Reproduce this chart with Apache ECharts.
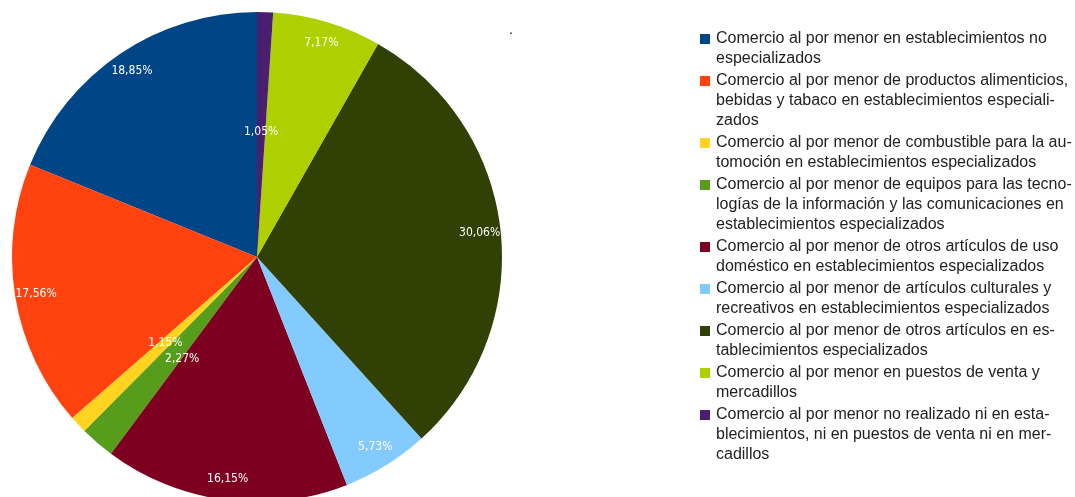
<!DOCTYPE html>
<html>
<head>
<meta charset="utf-8">
<script src="https://cdn.jsdelivr.net/npm/echarts@6/dist/echarts.min.js"></script>
<style>
  html, body { margin: 0; padding: 0; background: #fff; }
  #myChart { width: 1075px; height: 497px; }
</style>
</head>
<body>
<div id="myChart"></div>
<script>
// categorias (nombres completos) y su texto de leyenda partido en lineas
var categories = [
  'Comercio al por menor en establecimientos no especializados',
  'Comercio al por menor de productos alimenticios, bebidas y tabaco en establecimientos especializados',
  'Comercio al por menor de combustible para la automoción en establecimientos especializados',
  'Comercio al por menor de equipos para las tecnologías de la información y las comunicaciones en establecimientos especializados',
  'Comercio al por menor de otros artículos de uso doméstico en establecimientos especializados',
  'Comercio al por menor de artículos culturales y recreativos en establecimientos especializados',
  'Comercio al por menor de otros artículos en establecimientos especializados',
  'Comercio al por menor en puestos de venta y mercadillos',
  'Comercio al por menor no realizado ni en establecimientos, ni en puestos de venta ni en mercadillos'
]
var legendLines = [
  'Comercio al por menor en establecimientos no\nespecializados',
  'Comercio al por menor de productos alimenticios,\nbebidas y tabaco en establecimientos especiali-\nzados',
  'Comercio al por menor de combustible para la au-\ntomoción en establecimientos especializados',
  'Comercio al por menor de equipos para las tecno-\nlogías de la información y las comunicaciones en\nestablecimientos especializados',
  'Comercio al por menor de otros artículos de uso\ndoméstico en establecimientos especializados',
  'Comercio al por menor de artículos culturales y\nrecreativos en establecimientos especializados',
  'Comercio al por menor de otros artículos en es-\ntablecimientos especializados',
  'Comercio al por menor en puestos de venta y\nmercadillos',
  'Comercio al por menor no realizado ni en esta-\nblecimientos, ni en puestos de venta ni en mer-\ncadillos'
]
var percentValues = [18.85, 17.56, 1.15, 2.27, 16.15, 5.73, 30.06, 7.17, 1.05]
var colors = ['#004586', '#ff420e', '#ffd320', '#579d1c', '#7e0021', '#83caff', '#314004', '#aecf00', '#4b1f6f']

var myChart = echarts.init(document.getElementById('myChart'))

function fmtPct(v) {
  return v.toFixed(2).replace('.', ',') + '%'
}

// estilos rich para la leyenda (cuadro de color en la primera linea)
var rich = {
  g: { width: 6 },
  i: { width: 16 },
  t: { fontSize: 16, lineHeight: 20, color: '#222', fontFamily: 'Liberation Sans' }
}
colors.forEach(function(c, i) {
  rich['m' + i] = { width: 10, height: 10, backgroundColor: c }
})

var labelStyle = {
  color: '#fff',
  fontSize: 12,
  fontFamily: 'DejaVu Sans Condensed',
  formatter: function(p) { return fmtPct(p.value) }
}

// sectores; los pequenos llevan la etiqueta a media distancia
var mainData = categories.map(function(name, i) {
  return {
    name: name,
    value: percentValues[i],
    itemStyle: { color: colors[i] },
    label: { show: percentValues[i] < 3 }
  }
})
// anillo transparente solo para colocar las etiquetas grandes cerca del borde
var ringData = categories.map(function(name, i) {
  return {
    name: name,
    value: percentValues[i],
    label: { show: percentValues[i] >= 3 }
  }
})

var option = {
  animation: false,
  title: {
    text: '.',
    left: 504,
    top: 18,
    textStyle: { fontSize: 14, color: '#000', fontWeight: 'normal' }
  },
  legend: {
    orient: 'vertical',
    left: 695,
    top: 31,
    padding: 0,
    itemGap: 6,
    itemWidth: 0,
    itemHeight: 10,
    icon: 'none',
    data: categories,
    formatter: function(name) {
      var idx = categories.indexOf(name)
      var lines = legendLines[idx].split('\n')
      return lines.map(function(l, k) {
        return (k === 0 ? '{m' + idx + '|}{g|}' : '{i|}') + '{t|' + l + '}'
      }).join('\n')
    },
    textStyle: { rich: rich }
  },
  series: [
    {
      type: 'pie',
      center: [257, 257],
      radius: [0, 245],
      startAngle: 90,
      clockwise: false,
      silent: true,
      label: Object.assign({ position: 'inside' }, labelStyle),
      labelLine: { show: false },
      labelLayout: function(params) {
        // separar un poco las dos etiquetas pequenas que se pisan
        if (params.dataIndex === 3) return { hideOverlap: false, dx: 7, dy: 7 }
        return { hideOverlap: false }
      },
      data: mainData
    },
    {
      type: 'pie',
      center: [257, 257],
      radius: [197, 245],
      startAngle: 90,
      clockwise: false,
      silent: true,
      itemStyle: { color: 'rgba(0,0,0,0)' },
      label: Object.assign({ position: 'inside' }, labelStyle),
      labelLine: { show: false },
      data: ringData
    }
  ]
}
myChart.setOption(option)
window.addEventListener('resize', function() {
  myChart.resize()
})
</script>
</body>
</html>
